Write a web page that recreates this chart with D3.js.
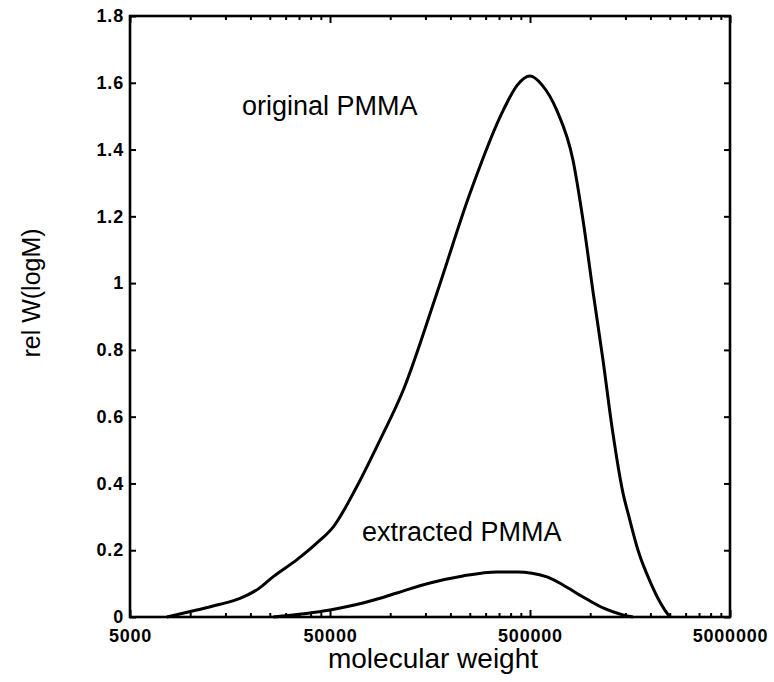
<!DOCTYPE html>
<html>
<head>
<meta charset="utf-8">
<script src="https://cdn.jsdelivr.net/npm/d3@7"></script>
<style>
  body { margin: 0; background: #fff; }
  svg { display: block; font-family: "Liberation Sans", Arial, sans-serif; }
</style>
</head>
<body>
<script>
// molecular weight (x) and rel W(logM) (y)
const origM = [7630, 10780, 14100, 17740, 22000, 26030, 34070, 42900, 51940, 68000, 88910, 116300, 170900, 250600, 367700, 432000, 500000, 575000, 680100, 820300, 920500, 1036000, 1159000, 1285000, 1459000, 1563000, 1734000, 2014000, 2208000, 2366000, 2506000];
const origW = [0, 0.021, 0.038, 0.056, 0.085, 0.121, 0.171, 0.221, 0.270, 0.390, 0.530, 0.680, 0.969, 1.269, 1.518, 1.593, 1.620, 1.593, 1.518, 1.368, 1.189, 0.969, 0.769, 0.569, 0.371, 0.300, 0.200, 0.100, 0.050, 0.020, 0];

const extrM = [26000, 50000, 73100, 88910, 108100, 158100, 231200, 341900, 430500, 608000, 731000, 920500, 1159000, 1459000, 1637000];
const extrW = [0, 0.021, 0.042, 0.056, 0.072, 0.102, 0.123, 0.135, 0.135, 0.120, 0.096, 0.060, 0.027, 0.006, 0];

const xMajor = [5000, 50000, 500000, 5000000];
const yTicks = [0, 0.2, 0.4, 0.6, 0.8, 1, 1.2, 1.4, 1.6, 1.8];

const width = 774, height = 682;
const mLeft = 130, mRight = 730, mTop = 16, mBottom = 617;

let svg = d3.select("body").append("svg").attr("width", width).attr("height", height);

let x = d3.scaleLog().domain([5000, 5000000]).range([mLeft, mRight]);
let y = d3.scaleLinear().domain([0, 1.8]).range([mBottom, mTop]);

let xMinor = [];
xMajor.slice(0, 3).forEach(function (m) {
    for (let k = 2; k <= 9; k++) xMinor.push(m * k);
});

function styleAxis(g) {
    g.select(".domain").remove();
    g.selectAll("line").attr("stroke", "#000").attr("stroke-width", 2);
    g.selectAll("text").attr("fill", "#000").attr("font-size", 18).attr("font-weight", "bold")
        .attr("letter-spacing", 0.8);
}

// bottom
svg.append("g").attr("transform", `translate(0,${mBottom})`)
    .call(d3.axisBottom(x).tickValues(xMajor).tickFormat(d3.format("d")).tickSizeInner(-7).tickSizeOuter(0).tickPadding(12))
    .call(styleAxis);
svg.append("g").attr("transform", `translate(0,${mBottom})`)
    .call(d3.axisBottom(x).tickValues(xMinor).tickFormat("").tickSizeInner(-4).tickSizeOuter(0))
    .call(styleAxis);
// top
svg.append("g").attr("transform", `translate(0,${mTop})`)
    .call(d3.axisTop(x).tickValues(xMajor).tickFormat("").tickSizeInner(-7).tickSizeOuter(0))
    .call(styleAxis);
svg.append("g").attr("transform", `translate(0,${mTop})`)
    .call(d3.axisTop(x).tickValues(xMinor).tickFormat("").tickSizeInner(-4).tickSizeOuter(0))
    .call(styleAxis);
// left
svg.append("g").attr("transform", `translate(${mLeft},0)`)
    .call(d3.axisLeft(y).tickValues(yTicks).tickFormat(d => String(+d.toFixed(1))).tickSizeInner(-6).tickSizeOuter(0).tickPadding(6))
    .call(styleAxis);
// right
svg.append("g").attr("transform", `translate(${mRight},0)`)
    .call(d3.axisRight(y).tickValues(yTicks).tickFormat("").tickSizeInner(-6).tickSizeOuter(0))
    .call(styleAxis);

// frame
svg.append("rect").attr("x", mLeft).attr("y", mTop).attr("width", mRight - mLeft).attr("height", mBottom - mTop)
    .attr("fill", "none").attr("stroke", "#000").attr("stroke-width", 2.6);

let line = d3.line().x(d => x(d[0])).y(d => y(d[1])).curve(d3.curveMonotoneX);

svg.append("path").datum(d3.zip(origM, origW)).attr("d", line)
    .attr("fill", "none").attr("stroke", "#000").attr("stroke-width", 3);
svg.append("path").datum(d3.zip(extrM, extrW)).attr("d", line)
    .attr("fill", "none").attr("stroke", "#000").attr("stroke-width", 3);

// labels
svg.append("text").attr("x", 242).attr("y", 115).attr("font-size", 27).text("original PMMA");
svg.append("text").attr("x", 362).attr("y", 541).attr("font-size", 27).text("extracted PMMA");
svg.append("text").attr("x", 433).attr("y", 668).attr("text-anchor", "middle").attr("font-size", 28).text("molecular weight");
svg.append("text").attr("transform", "translate(40,293) rotate(-90)").attr("text-anchor", "middle")
    .attr("font-size", 25).text("rel W(logM)");
</script>
</body>
</html>
